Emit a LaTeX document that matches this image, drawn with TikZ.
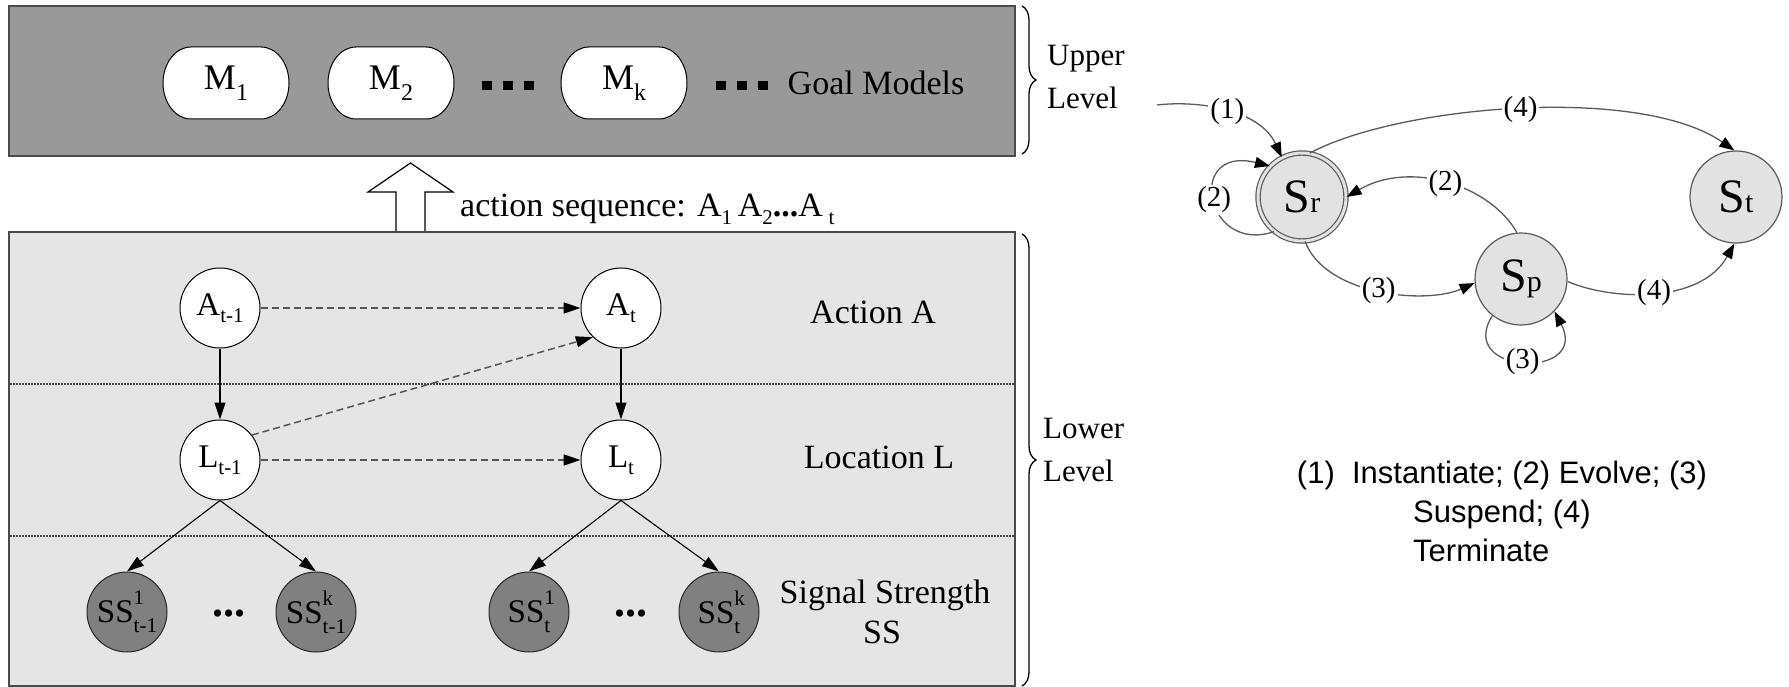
\documentclass[tikz,border=0pt]{standalone}
\usepackage{fontspec}
\setmainfont{Liberation Serif}
\newfontfamily\capfont{Liberation Sans}
\usetikzlibrary{arrows.meta,decorations.pathreplacing,calc}

\definecolor{upfill}{HTML}{999999}
\definecolor{lowfill}{HTML}{E5E5E5}
\definecolor{boxline}{HTML}{4A4A4A}
\definecolor{obsfill}{HTML}{808080}
\definecolor{stfill}{HTML}{E2E2E2}
\definecolor{stline}{HTML}{5A5A5A}
\definecolor{dashcol}{HTML}{555555}

\newcommand\fs[1]{\fontsize{#1}{#1}\selectfont}
% lowered index and stacked upper/lower indices
\newcommand\lo[1]{\raisebox{-0.22em}{\fs{21}#1}}
\newcommand\mlo[1]{\raisebox{-0.32em}{\fs{24}#1}}
\newcommand\hilo[2]{\makebox[0pt][l]{\raisebox{0.55em}{\fs{21}#1}}\raisebox{-0.3em}{\fs{21}#2}}

\begin{document}
\begin{tikzpicture}[x=1pt,y=1pt,
  txt/.style={font=\fs{34}, inner sep=0pt},
  side/.style={font=\fontsize{31}{43}\selectfont, inner sep=0pt, align=left},
  var/.style={circle, draw=black, line width=1pt, fill=white, minimum size=80pt, inner sep=0pt, font=\fs{33}},
  obs/.style={var, fill=obsfill, draw=black!85},
  mlabel/.style={inner sep=0pt, font=\fs{36}},
  barrel/.style={draw=black, line width=1pt, fill=white},
  sq/.style={fill=black},
  solidarr/.style={draw=black, line width=1.1pt, -{Triangle[length=17pt,width=11pt]}},
  dasharr/.style={draw=dashcol, line width=1.5pt, dash pattern=on 7pt off 4pt, -{Triangle[length=17pt,width=11pt,color=black,fill=black]}},
  sepline/.style={draw=boxline, line width=1.2pt, dash pattern=on 1.5pt off 1.5pt},
  levelbrace/.style={draw=black, line width=1.3pt, decorate, decoration={brace, amplitude=14pt}},
  state/.style={circle, draw=stline, line width=1.2pt, fill=stfill, minimum size=92pt, inner sep=0pt, font=\fs{48}},
  sedge/.style={draw=stline, line width=1.3pt, -{Triangle[length=15pt,width=11pt,color=black,fill=black]}},
  slbl/.style={fill=white, inner sep=2pt, font=\fs{29}},
  caption/.style={font=\capfont\fs{31}, inner sep=0pt}
]
\useasboundingbox (0,0) rectangle (1789,-687);

% ---------- upper level ----------
\draw[draw=boxline, line width=2pt, fill=upfill] (9,-6) rectangle (1015,-156);

\foreach \cx in {226,391,624}{
  \draw[barrel] (\cx-35,-47) -- (\cx+35,-47)
    arc[start angle=90, end angle=-90, x radius=28, y radius=36]
    -- (\cx-35,-119)
    arc[start angle=270, end angle=90, x radius=28, y radius=36] -- cycle;
}
\node[mlabel] (m1) at (226,-83) {M\mlo{1}};
\node[mlabel] (m2) at (391,-83) {M\mlo{2}};
\node[mlabel] (mk) at (624,-83) {M\mlo{k}};

\foreach \cx in {487,508,529,721,742,763}{
  \fill[sq] (\cx-5,-81) rectangle (\cx+5,-90);
}
\node[txt, anchor=base] (goal) at (876,-95) {Goal Models};

\draw[levelbrace] (1022,-6) -- (1022,-154);
\node[side, anchor=west] (upper) at (1047,-77) {Upper\\Level};

% ---------- hollow arrow between levels ----------
\draw[draw=black, line width=1.2pt, fill=white]
  (396,-232) -- (396,-192) -- (368,-192) -- (410.5,-163) -- (453,-192)
  -- (425,-192) -- (425,-232);
\node[txt, anchor=base west, font=\fs{34}] (seq) at (460,-217)
  {action sequence: A\lo{1}\,A\lo{2}\textbf{...}A\,\lo{t}};

% ---------- lower level ----------
\draw[draw=boxline, line width=2pt, fill=lowfill] (9,-232) rectangle (1015,-686);
\draw[sepline] (10,-384) -- (1014,-384);
\draw[sepline] (10,-536) -- (1014,-536);

\node[var] (a1) at (220,-308) {A\lo{t-1}};
\node[var] (a2) at (621,-308) {A\lo{t}};
\node[var] (l1) at (220,-460) {L\lo{t-1}};
\node[var] (l2) at (621,-460) {L\lo{t}};

\node[obs] (s11) at (127,-612) {SS\hilo{1}{t-1}};
\node[obs] (s1k) at (316,-612) {SS\hilo{k}{t-1}};
\node[obs] (s21) at (529,-612) {SS\hilo{1}{t}};
\node[obs] (s2k) at (719,-612) {SS\hilo{k}{t}};
\node[txt, font=\fs{44}\bfseries] (d1) at (229,-614) {...};
\node[txt, font=\fs{44}\bfseries] (d2) at (631,-614) {...};

\draw[dasharr] (a1) -- (a2);
\draw[dasharr] (l1) -- (l2);
\draw[dasharr] (l1.38) -- (a2.226);
\draw[solidarr] (a1) -- (l1);
\draw[solidarr] (a2) -- (l2);
\draw[solidarr] (l1.south) -- (s11.north);
\draw[solidarr] (l1.south) -- (s1k.north);
\draw[solidarr] (l2.south) -- (s21.north);
\draw[solidarr] (l2.south) -- (s2k.north);

\node[txt, anchor=base] (act) at (873,-323) {Action A};
\node[txt, anchor=base] (loc) at (879,-468) {Location L};
\node[txt, anchor=base] (sig) at (885,-603) {Signal Strength};
\node[txt, anchor=base] (sigss) at (882,-643) {SS};

\draw[levelbrace] (1022,-234) -- (1022,-686);
\node[side, anchor=west] (lower) at (1043,-450) {Lower\\Level};

% ---------- goal model life cycle ----------
\node[state, double=stfill, double distance=3pt, minimum size=88pt] (sr) at (1302,-197) {S{\fs{30}r}};
\node[state] (sp) at (1521,-279) {S{\fs{30}p}};
\node[state] (st) at (1736,-197) {S{\fs{30}t}};
\coordinate (s0) at (1157,-105);

\draw[sedge] (s0) .. controls (1200,-100) and (1260,-110) .. node[slbl, pos=0.5] (e1) {(1)} (sr.117);
\draw[sedge] (sr.231) .. controls (1205,-255) and (1185,-145) .. node[slbl, pos=0.5] (e2) {(2)} (sr.136);
\draw[sedge] (sr.80) .. controls (1400,-105) and (1640,-85) .. node[slbl, pos=0.5] (e3) {(4)} (st.92);
\draw[sedge] (sp.95) .. controls (1490,-185) and (1410,-160) .. node[slbl, pos=0.5] (e4) {(2)} (sr.0);
\draw[sedge] (sr.-86) .. controls (1325,-295) and (1425,-305) .. node[slbl, pos=0.5] (e5) {(3)} (sp.185);
\draw[sedge] (sp.-3) .. controls (1610,-300) and (1700,-305) .. node[slbl, pos=0.5] (e6) {(4)} (st.-92);
\draw[sedge] (sp.-128) .. controls (1455,-375) and (1590,-380) .. node[slbl, pos=0.5] (e7) {(3)} (sp.-44);

\node[caption, anchor=base] (cap1) at (1502,-483) {(1)\ \ Instantiate; (2) Evolve; (3)};
\node[caption, anchor=base west] (cap2) at (1413,-522) {Suspend; (4)};
\node[caption, anchor=base west] (cap3) at (1413,-561) {Terminate};
\end{tikzpicture}
\end{document}
